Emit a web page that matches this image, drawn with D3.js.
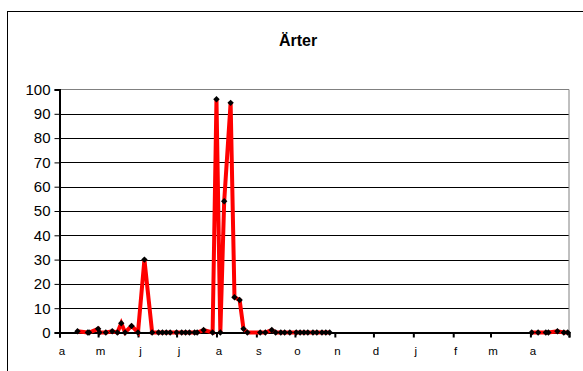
<!DOCTYPE html>
<html>
<head>
<meta charset="utf-8">
<script src="https://cdn.jsdelivr.net/npm/d3@7"></script>
<style>
  html, body { margin: 0; padding: 0; background: #fff; }
  svg { display: block; font-family: "Liberation Sans", Arial, sans-serif; }
</style>
</head>
<body>
<svg id="chart" width="583" height="371"></svg>
<script>
// Sampling dates and counts
const sampleDates = [
  "2003-04-15", "2003-04-23", "2003-04-24", "2003-05-01", "2003-05-02",
  "2003-05-07", "2003-05-12", "2003-05-16", "2003-05-19", "2003-05-22",
  "2003-05-27", "2003-06-01", "2003-06-06", "2003-06-12", "2003-06-17",
  "2003-06-20", "2003-06-23", "2003-06-26", "2003-07-01", "2003-07-05",
  "2003-07-08", "2003-07-11", "2003-07-15", "2003-07-17", "2003-07-22",
  "2003-07-29", "2003-08-01", "2003-08-04", "2003-08-07", "2003-08-12",
  "2003-08-15", "2003-08-19", "2003-08-22", "2003-08-25", "2003-09-04",
  "2003-09-08", "2003-09-13", "2003-09-16", "2003-09-20", "2003-09-23",
  "2003-09-27", "2003-10-02", "2003-10-05", "2003-10-08", "2003-10-11",
  "2003-10-15", "2003-10-18", "2003-10-22", "2003-10-25", "2003-10-28",
  "2004-04-02", "2004-04-07", "2004-04-13", "2004-04-15", "2004-04-22",
  "2004-04-27", "2004-04-30"
];
const counts = [
  0.5, 0, 0, 1.5, 0,
  0, 0.5, 0, 3.8, 0,
  2.7, 0, 30, 0, 0,
  0, 0, 0, 0, 0,
  0, 0, 0, 0, 1,
  0, 96, 0, 54, 94.5,
  14.5, 13.4, 1.5, 0, 0,
  0, 1, 0, 0, 0,
  0, 0, 0, 0, 0,
  0, 0, 0, 0, 0,
  0, 0, 0, 0, 0.5,
  0, 0
];
const yTicks = [0, 10, 20, 30, 40, 50, 60, 70, 80, 90, 100];
const monthLabels = ["a", "m", "j", "j", "a", "s", "o", "n", "d", "j", "f", "m", "a"];
const axisStart = "2003-04-01";
const axisEnd = "2004-05-01";
const chartTitle = "Ärter";

const parse = d3.utcParse("%Y-%m-%d");
const points = sampleDates.map((d, i) => ({ date: parse(d), value: counts[i] }));

const svg = d3.select("#chart");
const plot = { left: 59.5, right: 569, top: 89.5, bottom: 332.5 };

// Outer chart frame
svg.append("rect")
  .attr("x", 7.5).attr("y", 11.5)
  .attr("width", 600).attr("height", 400)
  .attr("fill", "#fff").attr("stroke", "#000").attr("stroke-width", 1);

// Title
svg.append("text")
  .attr("x", 298).attr("y", 46)
  .attr("text-anchor", "middle")
  .attr("font-size", 16).attr("font-weight", "bold")
  .text(chartTitle);

const x = d3.scaleUtc()
  .domain([parse(axisStart), parse(axisEnd)])
  .range([plot.left, plot.right]);
const y = d3.scaleLinear()
  .domain([0, 100])
  .range([plot.bottom, plot.top]);

// Horizontal gridlines
svg.append("g")
  .selectAll("line")
  .data(yTicks.filter(v => v > 0 && v < 100))
  .join("line")
  .attr("x1", plot.left).attr("x2", plot.right)
  .attr("y1", d => Math.round(y(d)) + 0.5).attr("y2", d => Math.round(y(d)) + 0.5)
  .attr("stroke", "#000").attr("stroke-width", 1);

// Plot area border (top and right)
svg.append("path")
  .attr("d", `M${plot.left},${plot.top}H${plot.right}V${plot.bottom}`)
  .attr("fill", "none").attr("stroke", "#808080").attr("stroke-width", 1);

// Y axis
const yAxis = d3.axisLeft(y)
  .tickValues(yTicks)
  .tickSize(5)
  .tickPadding(4)
  .tickFormat(d3.format("d"));
const gy = svg.append("g")
  .attr("transform", `translate(${plot.left},0)`)
  .call(yAxis);
gy.select(".domain").attr("stroke", "#000").attr("stroke-width", 2);
gy.selectAll(".tick line").attr("stroke", "#000").attr("stroke-width", 1);
gy.selectAll(".tick text")
  .attr("font-family", "'Liberation Sans', Arial, sans-serif")
  .attr("font-size", 15).attr("fill", "#000");

// X axis (monthly ticks)
const monthTicks = d3.utcMonth.range(parse(axisStart), d3.utcDay.offset(parse(axisEnd), 1));
const xAxis = d3.axisBottom(x)
  .tickValues(monthTicks)
  .tickSize(5)
  .tickPadding(9)
  .tickFormat((d, i) => monthLabels[i] || "");
const gx = svg.append("g")
  .attr("transform", `translate(0,${plot.bottom})`)
  .call(xAxis);
gx.select(".domain").attr("stroke", "#000").attr("stroke-width", 2);
gx.selectAll(".tick line").attr("stroke", "#000").attr("stroke-width", 2);
gx.selectAll(".tick text")
  .attr("font-family", "'Liberation Sans', Arial, sans-serif")
  .attr("font-size", 11.5).attr("fill", "#000")
  .attr("dx", 2);

// Series line, broken where sampling paused for the winter
const line = d3.line()
  .x(d => x(d.date))
  .y(d => y(d.value));
const segments = [];
let current = [];
points.forEach((p, i) => {
  if (i > 0 && (p.date - points[i - 1].date) > 60 * 86400000) {
    segments.push(current);
    current = [];
  }
  current.push(p);
});
segments.push(current);

svg.append("g")
  .selectAll("path")
  .data(segments)
  .join("path")
  .attr("d", line)
  .attr("fill", "none")
  .attr("stroke", "#ff0000")
  .attr("stroke-width", 4)
  .attr("stroke-linejoin", "miter");

// Diamond markers
svg.append("g")
  .selectAll("path")
  .data(points)
  .join("path")
  .attr("transform", d => `translate(${x(d.date)},${y(d.value)})`)
  .attr("d", "M0,-3.2L3.2,0L0,3.2L-3.2,0Z")
  .attr("fill", "#000");
</script>
</body>
</html>
